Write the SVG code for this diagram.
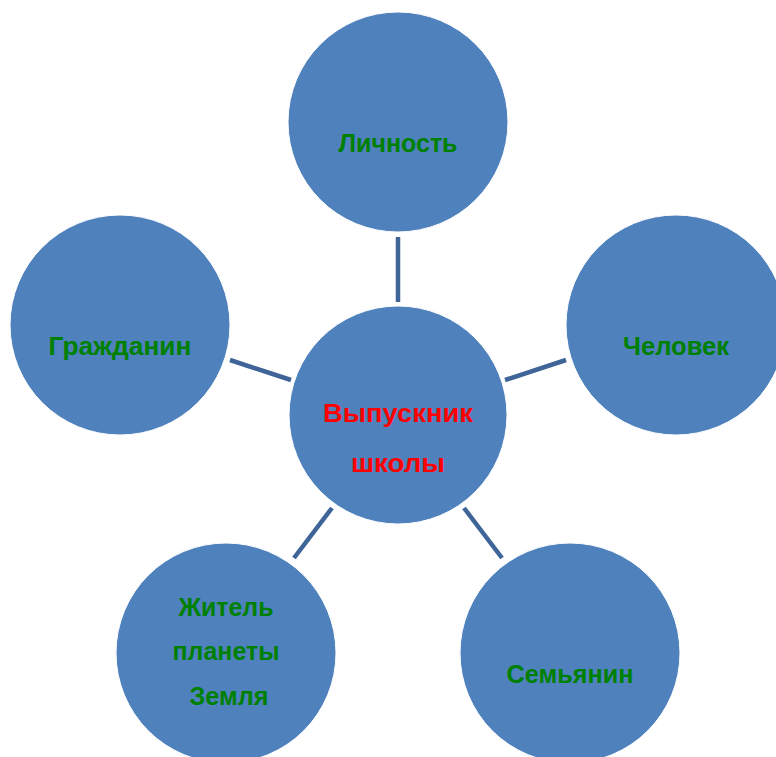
<svg xmlns="http://www.w3.org/2000/svg" width="776" height="757" viewBox="0 0 776 757">
<style>
.node circle{fill:#4F81BD;stroke:#FFFFFF;stroke-width:1}
.lbl{font-family:"Liberation Sans",Arial,sans-serif;font-weight:bold;font-size:26px;text-anchor:middle;fill:#008000}
.main{fill:#FF0000}
#connectors line{stroke:#3E6498;stroke-width:4.5}
</style>
<rect width="776" height="757" fill="#FFFFFF"/>
<g id="connectors">
<line x1="398" y1="237" x2="398" y2="302"/>
<line x1="230" y1="360" x2="291" y2="380"/>
<line x1="505" y1="380" x2="566" y2="360"/>
<line x1="332" y1="508" x2="294" y2="558"/>
<line x1="464" y1="508" x2="502" y2="558"/>
</g>
<g id="node-center" class="node">
<circle cx="398" cy="415" r="109"/>
<text class="lbl main" x="398" y="422" textLength="150" lengthAdjust="spacingAndGlyphs">Выпускник</text>
<text class="lbl main" x="398" y="472" textLength="94" lengthAdjust="spacingAndGlyphs">школы</text>
</g>
<g id="node-lichnost" class="node">
<circle cx="398" cy="122" r="110"/>
<text class="lbl" x="398" y="152" textLength="119" lengthAdjust="spacingAndGlyphs">Личность</text>
</g>
<g id="node-chelovek" class="node">
<circle cx="676" cy="325" r="110"/>
<text class="lbl" x="676" y="355" textLength="106" lengthAdjust="spacingAndGlyphs">Человек</text>
</g>
<g id="node-grazhdanin" class="node">
<circle cx="120" cy="325" r="110"/>
<text class="lbl" x="120" y="355" textLength="143" lengthAdjust="spacingAndGlyphs">Гражданин</text>
</g>
<g id="node-zhitel" class="node">
<circle cx="226" cy="653" r="110"/>
<text class="lbl" x="226" y="616" textLength="95" lengthAdjust="spacingAndGlyphs">Житель</text>
<text class="lbl" x="226" y="660" textLength="107" lengthAdjust="spacingAndGlyphs">планеты</text>
<text class="lbl" x="229" y="705" textLength="79" lengthAdjust="spacingAndGlyphs">Земля</text>
</g>
<g id="node-semyanin" class="node">
<circle cx="570" cy="653" r="110"/>
<text class="lbl" x="570" y="683" textLength="127" lengthAdjust="spacingAndGlyphs">Семьянин</text>
</g>
</svg>
